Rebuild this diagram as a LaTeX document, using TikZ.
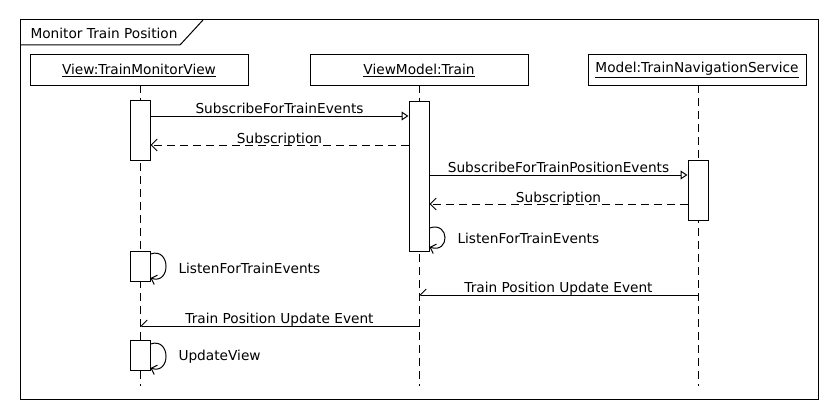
\documentclass[tikz,border=0pt]{standalone}
\usepackage{fontspec}
\setmainfont{DejaVu Sans}
\usetikzlibrary{arrows.meta,calc}
\begin{document}
\begin{tikzpicture}[x=1pt,y=-1pt,line width=1pt,
  font=\fontsize{13.7}{15}\selectfont,
  head/.style={draw,fill=white,minimum width=218pt,minimum height=30pt,inner sep=0pt},
  actbox/.style={draw,fill=white,minimum width=20pt,inner sep=0pt},
  life/.style={dash pattern=on 8pt off 5pt},
  sync/.style={-{Triangle[open,length=7pt,width=9pt]}},
  reply/.style={dash pattern=on 8pt off 5pt,-{Straight Barb[length=6pt,width=12pt]}},
  async/.style={-{Straight Barb[harpoon,swap,length=6pt,width=12pt]}},
  selfcall/.style={-{Straight Barb[length=5pt,width=10pt]}},
  lbl/.style={anchor=base,inner sep=0pt,yshift=3pt},
  side/.style={anchor=west,inner sep=0pt}]
\useasboundingbox[fill=white] (0,0) rectangle (840,420);
% frame
\draw (20,20) rectangle (818,399);
\draw (20,45) -- (180,45) -- (203,20);
\node[anchor=west,inner sep=0pt] (title) at (30,33) {Monitor Train Position};
% lifeline heads
\node[head] (v) at (139,70) {\underline{View:TrainMonitorView}};
\node[head] (vm) at (419,70) {\underline{ViewModel:Train}};
\node[head] (m) at (697,70) {\underline{Model:TrainNavigationService}};
\coordinate (vend) at (140,386);
\coordinate (vmend) at (419,386);
\coordinate (mend) at (698,386);
\draw[life] (140,85) -- (vend);
\draw[life] (419,85) -- (vmend);
\draw[life] (698,85) -- (mend);
% activations
\node[actbox,minimum height=60pt] (a1) at (140,130) {};
\node[actbox,minimum height=150pt] (a2) at (419,176) {};
\node[actbox,minimum height=60pt] (a3) at (698,190) {};
\node[actbox,minimum height=30pt] (a4) at (140,266) {};
\node[actbox,minimum height=30pt] (a5) at (140,355.5) {};
% messages
\draw[sync] (a1.east |- 0,116) -- (a2.west |- 0,116)
  node[lbl,midway] {SubscribeForTrainEvents};
\draw[reply] (a2.west |- 0,145) -- (a1.east |- 0,145)
  node[lbl,midway,yshift=-1pt] {Subscription};
\draw[sync] (a2.east |- 0,175) -- (a3.west |- 0,175)
  node[lbl,midway] {SubscribeForTrainPositionEvents};
\draw[reply] (a3.west |- 0,204) -- (a2.east |- 0,204)
  node[lbl,midway,yshift=-1pt] {Subscription};
\draw[selfcall] (a2.east |- 0,228) .. controls (450,221) and (450,254) .. (a2.east |- 0,247);
\node[side] (l1) at (457,238) {ListenForTrainEvents};
\draw[selfcall] (a4.east |- 0,254) .. controls (171,247) and (171,285) .. (a4.east |- 0,278);
\node[side] (l2) at (178,268) {ListenForTrainEvents};
\draw[async] (mend |- 0,295) -- (vmend |- 0,295)
  node[lbl,midway] {Train Position Update Event};
\draw[async] (vmend |- 0,326) -- (vend |- 0,326)
  node[lbl,midway] {Train Position Update Event};
\draw[selfcall] (a5.east |- 0,344) .. controls (171,337) and (171,375) .. (a5.east |- 0,368);
\node[side] (l3) at (178,357) {UpdateView};
\end{tikzpicture}
\end{document}
